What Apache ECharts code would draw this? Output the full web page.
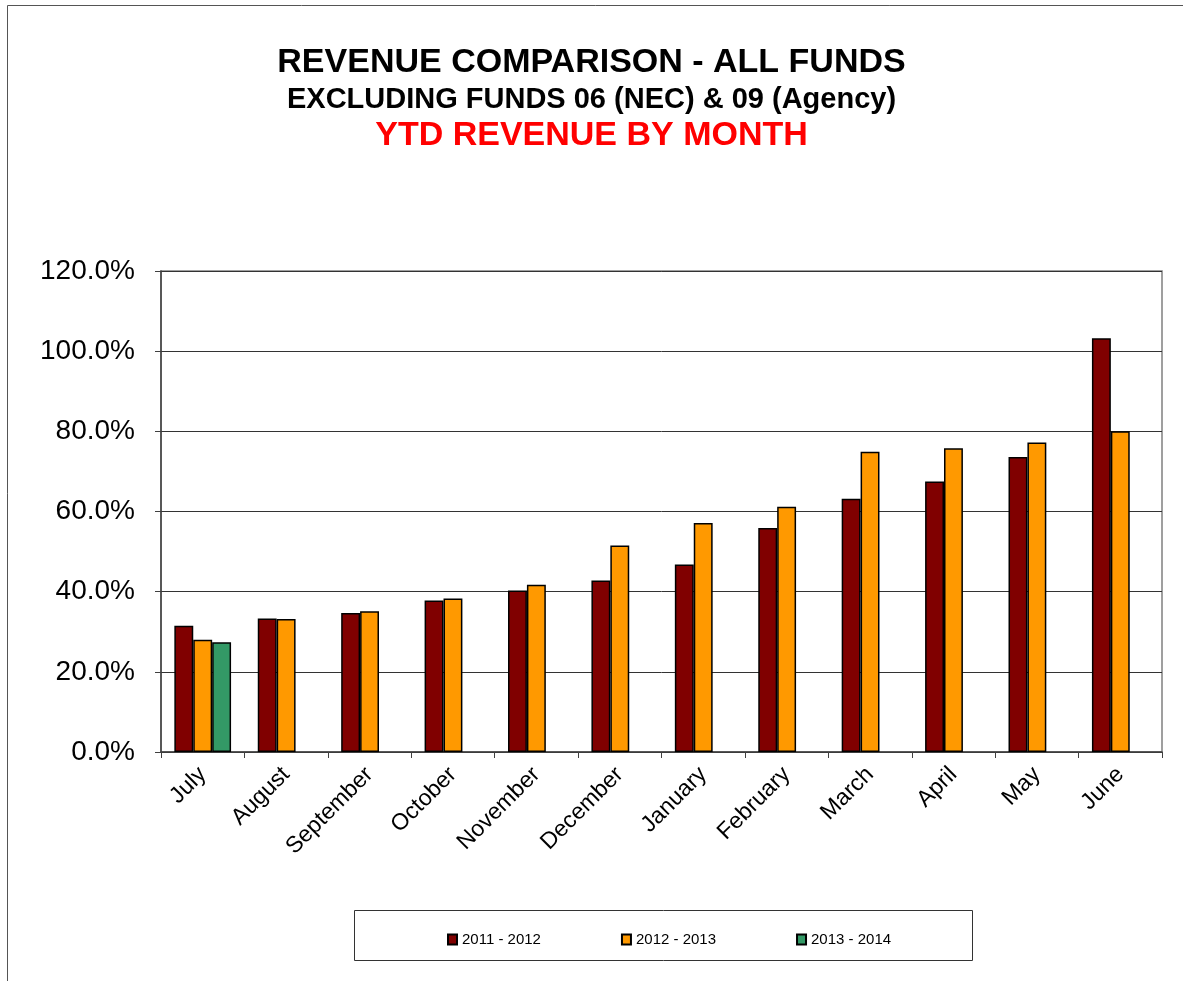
<!DOCTYPE html>
<html>
<head>
<meta charset="utf-8">
<script src="https://cdn.jsdelivr.net/npm/echarts@6/dist/echarts.min.js"></script>
<style>
html,body{margin:0;padding:0;background:#fff;}
#chart{width:1183px;height:981px;}
</style>
</head>
<body>
<div id="chart"></div>
<script>
const months = ['July','August','September','October','November','December','January','February','March','April','May','June'];
const seriesNames = ['2011 - 2012','2012 - 2013','2013 - 2014'];
const fy2011 = [31.5, 33.3, 34.7, 37.8, 40.3, 42.8, 46.8, 55.9, 63.2, 67.5, 73.6, 103.2];
const fy2012 = [28.0, 33.2, 35.1, 38.3, 41.7, 51.5, 57.1, 61.2, 74.9, 75.8, 77.2, 80.0];
const fy2013 = [27.4, null, null, null, null, null, null, null, null, null, null, null];
const yTicks = [0, 20, 40, 60, 80, 100, 120];
const colors = ['#800000', '#FF9900', '#339966'];

const chart = echarts.init(document.getElementById('chart'));
const font = 'Arial, "Liberation Sans", sans-serif';

function barSeries(name, data, color) {
  return {
    name: name, type: 'bar', data: data,
    barGap: '0%', barCategoryGap: '32%',
    itemStyle: { color: color, borderColor: '#000', borderWidth: 1.5 },
    emphasis: { disabled: true }
  };
}

chart.setOption({
  animation: false,
  backgroundColor: '#fff',
  title: [
    { text: 'REVENUE COMPARISON - ALL FUNDS', left: 'center', top: 41,
      textStyle: { fontFamily: font, fontSize: 34, fontWeight: 'bold', color: '#000' } },
    { text: 'EXCLUDING FUNDS 06 (NEC) & 09 (Agency)', left: 'center', top: 80,
      textStyle: { fontFamily: font, fontSize: 29, fontWeight: 'bold', color: '#000' } },
    { text: 'YTD REVENUE BY MONTH', left: 'center', top: 114,
      textStyle: { fontFamily: font, fontSize: 34, fontWeight: 'bold', color: '#FF0000' } }
  ],
  graphic: [
    { type: 'polyline', shape: { points: [[7.5, 985], [7.5, 5.5], [1190, 5.5]] },
      style: { stroke: '#555', lineWidth: 1, fill: null }, silent: true },
    { type: 'rect', shape: { x: 354.5, y: 910.5, width: 618, height: 50 },
      style: { stroke: '#333', lineWidth: 1, fill: '#fff' }, z: -1, silent: true }
  ],
  legend: {
    data: seriesNames,
    left: 442, top: 927,
    itemWidth: 9, itemHeight: 10, itemGap: 80,
    textStyle: { fontFamily: font, fontSize: 15, color: '#000' },
    icon: 'rect'
  },
  grid: { left: 161, top: 271, right: 21, bottom: 229, show: true, borderColor: '#808080', borderWidth: 1.5, containLabel: false },
  xAxis: {
    type: 'category', data: months,
    axisLine: { lineStyle: { color: '#404040', width: 1.5 } },
    axisTick: { show: true, length: 6, lineStyle: { color: '#404040' } },
    axisLabel: { rotate: 45, fontFamily: font, fontSize: 23, color: '#000', margin: 19 }
  },
  yAxis: {
    type: 'value', min: 0, max: 120, interval: 20,
    axisLine: { show: true, lineStyle: { color: '#404040', width: 1.5 } },
    axisTick: { show: true, length: 6, lineStyle: { color: '#404040' } },
    axisLabel: { fontFamily: font, fontSize: 28, color: '#000', margin: 26,
      formatter: v => yTicks.includes(v) ? v.toFixed(1) + '%' : '' },
    splitLine: { lineStyle: { color: '#333', width: 1 } }
  },
  series: [
    barSeries(seriesNames[0], fy2011, colors[0]),
    barSeries(seriesNames[1], fy2012, colors[1]),
    barSeries(seriesNames[2], fy2013, colors[2])
  ]
});
</script>
</body>
</html>
